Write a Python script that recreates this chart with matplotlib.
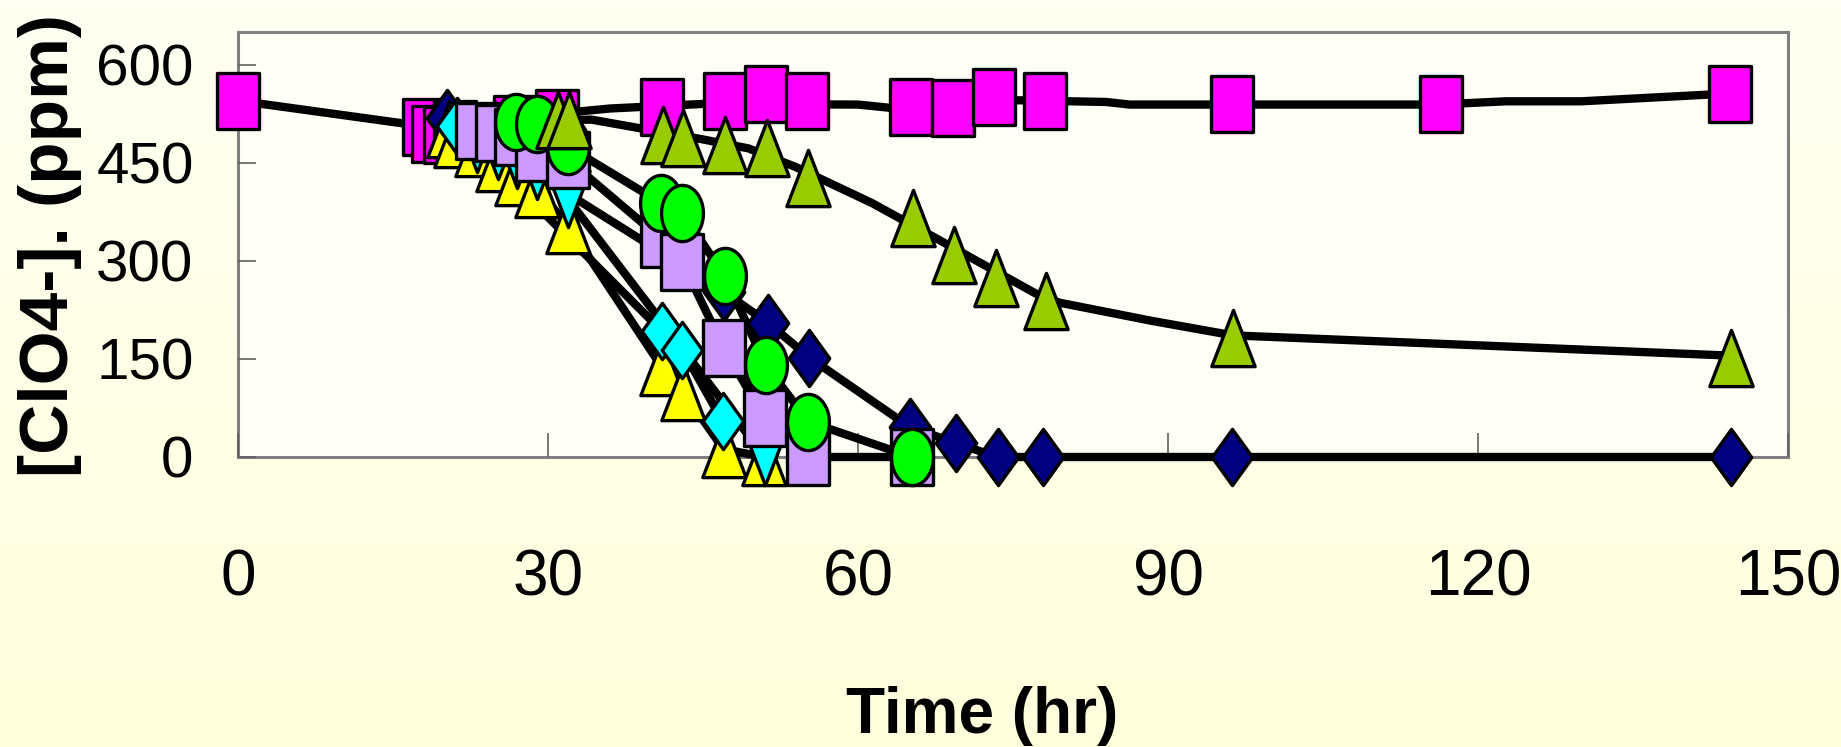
import numpy as np
import matplotlib
matplotlib.use("Agg")
import matplotlib.pyplot as plt
from matplotlib.path import Path

# ---------------- data (time in hr, perchlorate in ppm) ----------------
ctrl_t = [0, 18, 18.9, 20, 21, 26.8, 30.9, 41, 47.1, 51.1, 55.1, 65.1, 69.2, 73.2, 78.1, 96.2, 116.4, 144.4]
ctrl_ppm = [545, 504, 494, 492, 502, 510, 519, 536, 545, 555, 545, 535, 534, 550, 544, 540, 540, 555]
ctrl_line_t = [0, 17, 32, 36, 45, 60, 65, 74, 84, 86.3, 116, 122.7, 130, 144.4]
ctrl_line_ppm = [545, 508, 527, 533, 540, 539, 531, 546, 543, 539, 539, 544, 544, 556]

navy_t = [20.2, 47, 51.3, 55.3, 65, 69.5, 73.5, 77.9, 96.2, 144.5]
navy_ppm = [519, 253, 205, 152, 46, 21, 0, 0, 0, 0]

yellow_t = [20.4, 21.1, 23.1, 25.2, 27, 28.9, 31.9, 41, 43.1, 47, 50.9]
yellow_ppm = [501, 486, 472, 450, 428, 410, 355, 138, 99, 12, 0]

cyandn_t = [23.1, 25.2, 27, 28.9, 31.9, 51]
cyandn_ppm = [478, 468, 455, 438, 395, 0]

cyandia_t = [21.2, 41, 43, 46.9]
cyandia_ppm = [506, 193, 164, 55]

lav_t = [23.1, 25.1, 26.9, 28.9, 31.9, 41, 43, 47, 51, 55.2, 65.2]
lav_ppm = [499, 495, 490, 465, 455, 333, 298, 167, 59, 0, 0]

green_t = [26.9, 28.9, 31.9, 40.9, 43, 47.1, 51.1, 55.2, 65.2]
green_ppm = [513, 510, 475, 389, 373, 277, 140, 54, 0]

olive_t = [31, 32, 41.1, 43.1, 47.1, 51.2, 55.2, 65.3, 69.3, 73.4, 78.2, 96.3, 144.5]
olive_ppm = [515, 515, 492, 488, 477, 472, 426, 365, 309, 274, 239, 182, 152]
olive_line_t = [31, 34.2, 44.9, 49.4, 53.9, 59.4, 61.4, 67.5, 77.2, 79.5, 88.5, 96.3, 144.5]
olive_line_ppm = [515, 516, 486, 472, 444, 403, 388, 335, 250, 236, 208, 186, 155]

x_ticks = [0, 30, 60, 90, 120, 150]
y_ticks = [0, 150, 300, 450, 600]

# ---------------- figure ----------------
W, H = 1841, 747
fig = plt.figure(figsize=(W / 100, H / 100), dpi=100)

bg = fig.add_axes([0, 0, 1, 1], zorder=-10)
top = np.array([255, 255, 243]) / 255
bot = np.array([255, 255, 221]) / 255
grad = np.linspace(0, 1, 256)[:, None, None] * (bot - top) + top
bg.imshow(np.repeat(grad, 2, axis=1), aspect="auto", extent=[0, 1, 0, 1])
bg.set_axis_off()

ax = fig.add_axes([238 / W, 1 - 457 / H, (1788 - 238) / W, (457 - 32) / H])
ax.set_facecolor("#FFFFF8")
ax.set_xlim(0, 150)
ax.set_ylim(0, 650)

fam = ["Liberation Sans", "DejaVu Sans"]


def mk(verts):
    return Path(np.array(verts, float), closed=True)


sq = mk([(-0.372, -0.5), (0.372, -0.5), (0.372, 0.5), (-0.372, 0.5), (-0.372, -0.5)])
tri_up = mk([(0, 0.5), (0.385, -0.5), (-0.385, -0.5), (0, 0.5)])
tri_dn = mk([(0, -0.5), (0.385, 0.5), (-0.385, 0.5), (0, -0.5)])
dia = mk([(0, 0.5), (0.36, 0), (0, -0.5), (-0.36, 0), (0, 0.5)])
th = np.linspace(0, 2 * np.pi, 73)
ell = Path(np.column_stack([0.372 * np.cos(th), 0.5 * np.sin(th)]), closed=True)

LW = 6.0
MS = 40.5
MEW = 2.4

# lines (behind markers)
line_sets = [
    (ctrl_line_t, ctrl_line_ppm),
    (navy_t, navy_ppm),
    (yellow_t, yellow_ppm),
    (cyandn_t, cyandn_ppm),
    (cyandia_t, cyandia_ppm),
    (lav_t, lav_ppm),
    (green_t, green_ppm),
    (olive_line_t, olive_line_ppm),
]
for lx, ly in line_sets:
    ax.plot(lx, ly, color="black", lw=LW, solid_joinstyle="round",
            solid_capstyle="butt", zorder=2, clip_on=False)

marker_sets = [
    (ctrl_t, ctrl_ppm, sq, "#FF00FF"),
    (navy_t, navy_ppm, dia, "#000080"),
    (yellow_t, yellow_ppm, tri_up, "#FFFF00"),
    (cyandn_t, cyandn_ppm, tri_dn, "#00FFFF"),
    (cyandia_t, cyandia_ppm, dia, "#00FFFF"),
    (lav_t, lav_ppm, sq, "#CC99FF"),
    (green_t, green_ppm, ell, "#00FF00"),
    (olive_t, olive_ppm, tri_up, "#99CC00"),
]
for i, (mx, my, m, c) in enumerate(marker_sets):
    ax.plot(mx, my, linestyle="none", marker=m, markersize=MS,
            markerfacecolor=c, markeredgecolor="black", markeredgewidth=MEW,
            zorder=3 + i, clip_on=False)

for s in ax.spines.values():
    s.set_color("#808080")
    s.set_linewidth(2.2)
    s.set_zorder(1)

ax.set_xticks(x_ticks)
ax.set_yticks(y_ticks)
ax.set_xticklabels([str(v) for v in x_ticks])
ax.set_yticklabels([str(v) for v in y_ticks])
ax.tick_params(axis="x", direction="in", length=17, width=1.2, color="#606060",
               pad=66, labelsize=46)
ax.tick_params(axis="y", direction="in", length=13, width=1.2, color="#606060",
               pad=32, labelsize=42)
for lab in ax.get_xticklabels() + ax.get_yticklabels():
    lab.set_fontfamily(fam)

fig.text(982 / W, 1 - 733 / H, "Time (hr)", ha="center", va="baseline",
         fontsize=46, fontweight="bold", family=fam)
fig.text(50 / W, 1 - 245 / H, "[ClO4-]. (ppm)", ha="center", va="center",
         rotation=90, fontsize=50, fontweight="bold", family=fam)

fig.savefig("out.png", dpi=100)
